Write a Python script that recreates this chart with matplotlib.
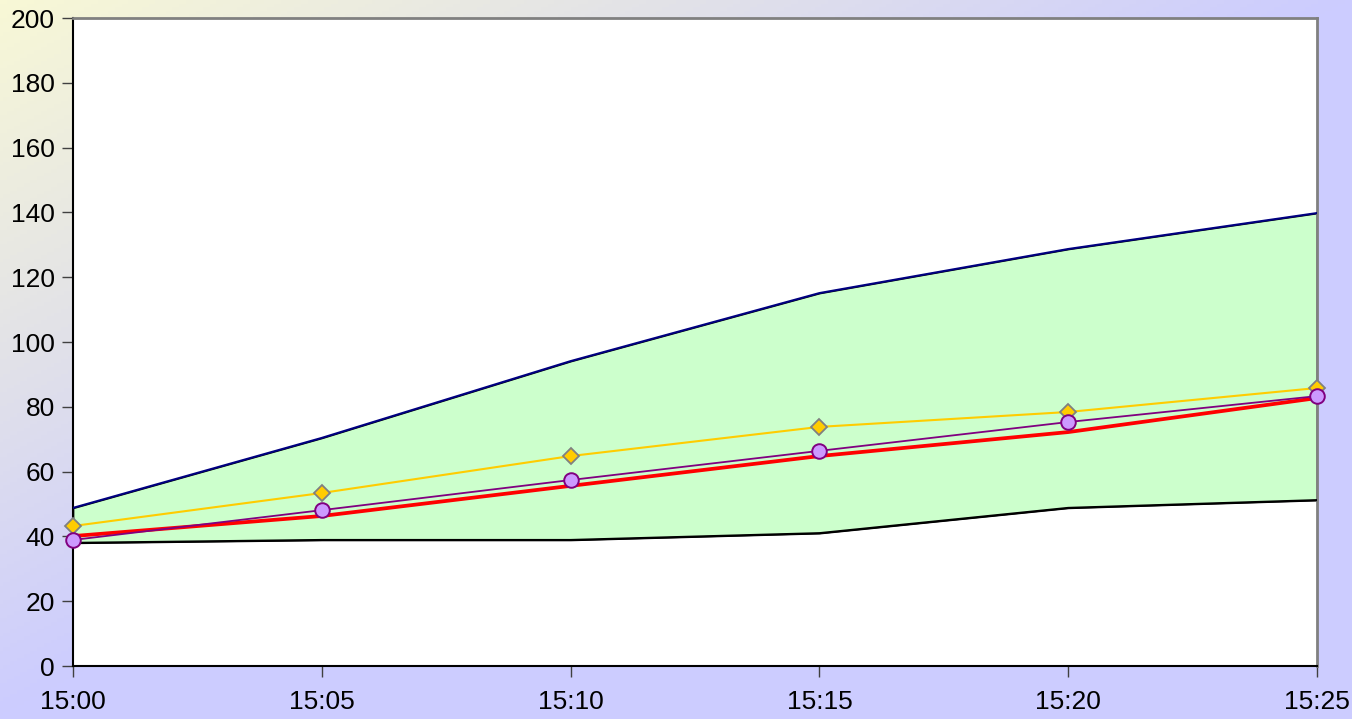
import numpy as np
import matplotlib
matplotlib.use('Agg')
from matplotlib import pyplot as plt
from matplotlib.colors import LinearSegmentedColormap

plt.rcParams['font.family'] = ['Liberation Sans', 'DejaVu Sans']

# readings every 5 minutes
times = ['15:00', '15:05', '15:10', '15:15', '15:20', '15:25']
upper = [48.8, 70.4, 94.1, 115.1, 128.7, 139.8]
lower = [38.0, 38.9, 38.9, 41.0, 48.8, 51.2]
series_a = [43.2, 53.4, 64.8, 73.8, 78.4, 85.8]   # yellow diamonds
series_b = [38.9, 48.1, 57.4, 66.4, 75.3, 83.3]   # purple circles
series_c = [40.1, 46.3, 55.6, 64.8, 72.2, 82.7]   # red line

x = np.arange(len(times))

fig = plt.figure(figsize=(13.52, 7.19), dpi=100)

# diagonal background wash, pale yellow top-left to lavender
bg = fig.add_axes([0, 0, 1, 1], zorder=-10)
gx, gy = np.meshgrid(np.linspace(0, 1, 400), np.linspace(0, 1, 200))
t = np.clip(gx + gy, 0, 1)
cmap = LinearSegmentedColormap.from_list('wash', ['#f8f8d6', '#e2e2e8', '#ccccff'])
bg.imshow(t, cmap=cmap, aspect='auto', extent=[0, 1, 1, 0], vmin=0, vmax=1)
bg.axis('off')

ax = fig.add_axes([73/1352, 1-666/719, (1317-73)/1352, (666-18)/719])
ax.set_facecolor('white')

ax.fill_between(x, lower, upper, facecolor='#ccffcc', edgecolor='black', linewidth=1.2, zorder=2)
ax.plot(x, upper, color='#000080', linewidth=1.5, zorder=3)
ax.plot(x, lower, color='black', linewidth=1.5, zorder=3)

ax.plot(x, series_a, color='#ffcc00', linewidth=1.5, marker='D', markersize=8,
        markerfacecolor='#ffcc00', markeredgecolor='#808080', markeredgewidth=1.3,
        zorder=5, clip_on=False)
ax.plot(x, series_c, color='#ff0000', linewidth=2.7, zorder=4, clip_on=False)
ax.plot(x, series_b, color='#800080', linewidth=1.3, marker='o', markersize=10.5,
        markerfacecolor='#cc99ff', markeredgecolor='#800080', markeredgewidth=1.4,
        zorder=6, clip_on=False)

ax.set_xlim(0, len(times) - 1)
ax.set_ylim(0, 200)
ax.set_yticks(np.arange(0, 201, 20))
ax.set_xticks(x)
ax.set_xticklabels(times)

for side in ['top', 'right']:
    ax.spines[side].set_color('#808080')
    ax.spines[side].set_linewidth(2)
for side in ['left', 'bottom']:
    ax.spines[side].set_color('black')
    ax.spines[side].set_linewidth(1.5)

ax.tick_params(axis='both', direction='out', length=8, width=1, color='#404040',
               labelsize=19, labelcolor='black')
ax.tick_params(axis='y', pad=5)
ax.tick_params(axis='x', pad=9)

fig.savefig('out.png', dpi=100)
